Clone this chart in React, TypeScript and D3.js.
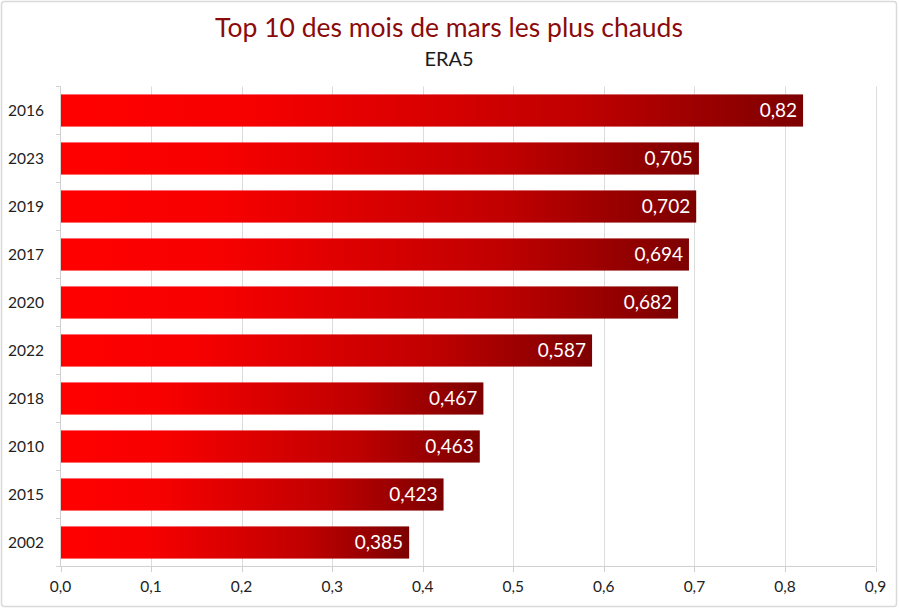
import React from "react";
import * as d3 from "d3";

const years = ["2016", "2023", "2019", "2017", "2020", "2022", "2018", "2010", "2015", "2002"];
const values = [0.82, 0.705, 0.702, 0.694, 0.682, 0.587, 0.467, 0.463, 0.423, 0.385];
const xTicks = [0, 0.1, 0.2, 0.3, 0.4, 0.5, 0.6, 0.7, 0.8, 0.9];
const title = "Top 10 des mois de mars les plus chauds";
const subtitle = "ERA5";

const W = 899;
const H = 609;
const FONT = "Lato, 'Open Sans', sans-serif";

export default function App() {
  const x = d3.scaleLinear().domain([0, 0.9]).range([60.5, 875.5]);
  const y = d3.scaleBand<string>().domain(years).range([86.5, 566.5]).paddingInner(0.33).paddingOuter(0.165);
  const band = (566.5 - 86.5) / years.length;
  const fmt = (v: number) => String(v).replace(".", ",");
  const fmtTick = (v: number) => v.toFixed(1).replace(".", ",");

  return (
    <svg width={W} height={H} style={{ position: "absolute", left: 0, top: 0, background: "#fff" }} fontFamily={FONT}>
      <defs>
        <linearGradient id="barGrad" x1="0" x2="1" y1="0" y2="0">
          <stop offset="0" stopColor="#ff0000" />
          <stop offset="0.25" stopColor="#f70000" />
          <stop offset="0.7" stopColor="#c00000" />
          <stop offset="1" stopColor="#7d0000" />
        </linearGradient>
      </defs>
      <rect x={1.5} y={1.5} width={W - 4} height={H - 4} rx={3} fill="#fff" stroke="#d9d9d9" strokeWidth={1.5} />
      <text x={449} y={37} textAnchor="middle" fontSize={26.5} fill="#8b0a0a">{title}</text>
      <text x={449} y={66} textAnchor="middle" fontSize={20} fill="#1a1a1a">{subtitle}</text>

      {xTicks.slice(1).map((t) => (
        <line key={"g" + t} x1={Math.round(x(t)) + 0.5} x2={Math.round(x(t)) + 0.5} y1={86.5} y2={566.5} stroke="#dcdcdc" strokeWidth={1} />
      ))}

      {years.map((yr, i) => (
        <g key={yr}>
          <rect x={x(0)} y={y(yr)!} width={x(values[i]) - x(0)} height={y.bandwidth()} fill="url(#barGrad)" />
          <text x={x(values[i]) - 6} y={y(yr)! + y.bandwidth() / 2 + 6.5} textAnchor="end" fontSize={19} fill="#fff">{fmt(values[i])}</text>
          <text x={8} y={y(yr)! + y.bandwidth() / 2 + 5.5} fontSize={15.5} fill="#222">{yr}</text>
        </g>
      ))}

      <line x1={60.5} x2={60.5} y1={86.5} y2={566.5} stroke="#d0d0d0" />
      {d3.range(years.length + 1).map((i) => (
        <line key={"yt" + i} x1={56} x2={60.5} y1={86.5 + i * band} y2={86.5 + i * band} stroke="#d0d0d0" />
      ))}

      <line x1={60.5} x2={875.5} y1={566.5} y2={566.5} stroke="#d0d0d0" />
      {xTicks.map((t) => (
        <g key={"xt" + t}>
          <line x1={Math.round(x(t)) + 0.5} x2={Math.round(x(t)) + 0.5} y1={566.5} y2={572} stroke="#d0d0d0" />
          <text x={x(t)} y={592} textAnchor="middle" fontSize={15.5} fill="#222">{fmtTick(t)}</text>
        </g>
      ))}
    </svg>
  );
}
